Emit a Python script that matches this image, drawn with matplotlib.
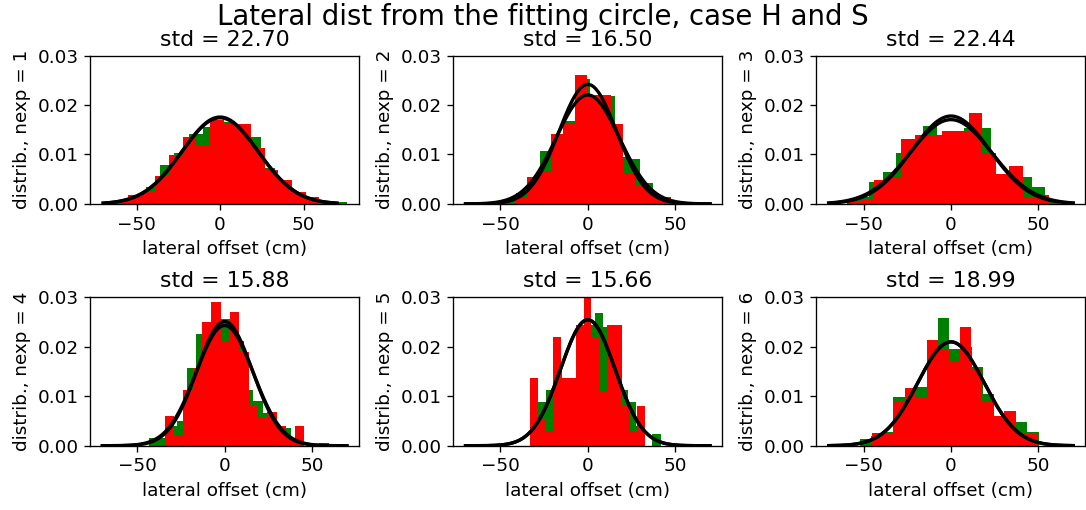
import numpy as np
import matplotlib.pyplot as plt

plt.rcParams['font.size'] = 11

# std printed in each title, and std of the second fitted gaussian
std_title = [22.70, 16.50, 22.44, 15.88, 15.66, 18.99]
std_other = [22.9, 18.1, 23.4, 16.4, 15.66, 18.99]

# histogram ranges (cm) for the two data sets of each experiment
green_ranges = [(-70.5, 76.0), (-48.5, 44.3), (-54.6, 61.8),
                (-43.4, 59.7), (-28.76, 41.7), (-52.1, 50.2)]
red_ranges = [(-63.3, 67.6), (-41.5, 47.7), (-59.4, 56.4),
              (-34.3, 45.7), (-32.95, 32.76), (-45.2, 49.6)]

# densities per bin
green_1 = [0.0001, 0.0005, 0.0015, 0.0034, 0.0078, 0.0102, 0.0141, 0.0155, 0.0165,
           0.0155, 0.0135, 0.0073, 0.0048, 0.0020, 0.0012, 0.0004, 0.0003]
red_1 = [0.0004, 0.0018, 0.0027, 0.0057, 0.0099, 0.0135, 0.0119, 0.0170,
         0.0161, 0.0161, 0.0114, 0.0069, 0.0048, 0.0025, 0.0015, 0.0004]

green_2 = [0.0010, 0.0022, 0.0035, 0.0107, 0.0130, 0.0167, 0.0252, 0.0210,
           0.0218, 0.0095, 0.0090, 0.0043, 0.0012]
red_2 = [0.0012, 0.0055, 0.0065, 0.0141, 0.0161, 0.0260, 0.0220, 0.0220,
         0.0161, 0.0062, 0.0038, 0.0022, 0.0015]

green_3 = [0.0015, 0.0044, 0.0065, 0.0104, 0.0125, 0.0158, 0.0140, 0.0145,
           0.0153, 0.0153, 0.0055, 0.0060, 0.0055, 0.0034, 0.0008]
red_3 = [0.0005, 0.0010, 0.0049, 0.0054, 0.0131, 0.0140, 0.0137, 0.0148,
         0.0148, 0.0183, 0.0102, 0.0060, 0.0077, 0.0013, 0.0018]

green_4 = [0.0016, 0.0016, 0.0040, 0.0051, 0.0158, 0.0225, 0.0240, 0.0257, 0.0257,
           0.0211, 0.0113, 0.0090, 0.0066, 0.0030, 0.0035, 0.0010, 0.0, 0.0, 0.0005]
red_4 = [0.0060, 0.0019, 0.0112, 0.0158, 0.0250, 0.0291, 0.0211, 0.0271,
         0.0190, 0.0081, 0.0057, 0.0068, 0.0040, 0.0015, 0.0040]

green_5 = [0.0089, 0.0112, 0.0158, 0.0130, 0.0130, 0.0240, 0.0244, 0.0268,
           0.0240, 0.0150, 0.0112, 0.0089, 0.0040, 0.0, 0.0023]
red_5 = [0.0136, 0.0053, 0.0027, 0.0219, 0.0136, 0.0136, 0.0245, 0.0302,
         0.0219, 0.0110, 0.0244, 0.0244, 0.0082, 0.0027, 0.0081]

green_6 = [0.0014, 0.0020, 0.0028, 0.0098, 0.0105, 0.0118, 0.0190, 0.0259,
           0.0196, 0.0200, 0.0160, 0.0105, 0.0060, 0.0048, 0.0048, 0.0027]
red_6 = [0.0026, 0.0026, 0.0091, 0.0116, 0.0098, 0.0214, 0.0196, 0.0170,
         0.0240, 0.0153, 0.0091, 0.0060, 0.0071, 0.0026, 0.0026]

greens = [green_1, green_2, green_3, green_4, green_5, green_6]
reds = [red_1, red_2, red_3, red_4, red_5, red_6]


def gauss(x, s):
    return np.exp(-x**2 / (2 * s**2)) / (s * np.sqrt(2 * np.pi))


fig, axes = plt.subplots(2, 3, figsize=(1086 / 120, 510 / 120), dpi=120)
fig.subplots_adjust(left=0.083, right=0.9995, bottom=0.126, top=0.891,
                    wspace=0.35, hspace=0.63)

x = np.linspace(-70, 70, 300)
for i, ax in enumerate(axes.flat):
    g_lo, g_hi = green_ranges[i]
    g_edges = np.linspace(g_lo, g_hi, len(greens[i]) + 1)
    ax.bar(g_edges[:-1], greens[i], width=np.diff(g_edges), align='edge', color='green')
    r_lo, r_hi = red_ranges[i]
    r_edges = np.linspace(r_lo, r_hi, len(reds[i]) + 1)
    ax.bar(r_edges[:-1], reds[i], width=np.diff(r_edges), align='edge', color='red')

    ax.plot(x, gauss(x, std_other[i]), color='k', lw=2)
    ax.plot(x, gauss(x, std_title[i]), color='k', lw=2)

    ax.set_ylim(0, 0.03)
    ax.set_xticks([-50, 0, 50])
    ax.set_title('std = %.2f' % std_title[i])
    ax.set_xlabel('lateral offset (cm)')
    ax.set_ylabel('distrib., nexp = %d' % (i + 1))

fig.suptitle('Lateral dist from the fitting circle, case H and S', fontsize=16.5, y=0.995)

fig.savefig('out.png', dpi=120)
